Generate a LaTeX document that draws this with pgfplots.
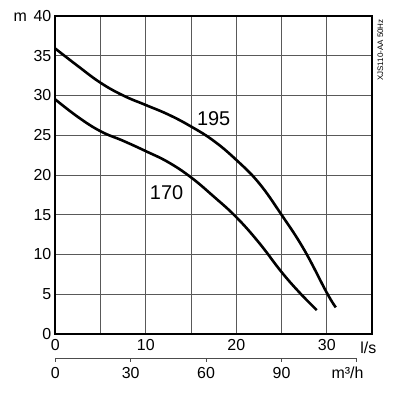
\documentclass[border=0pt]{standalone}
\usepackage{pgfplots}
\pgfplotsset{compat=1.18}
\usepackage{fontspec}
\setmainfont{Liberation Sans}
\begin{document}
\begin{tikzpicture}
\begin{axis}[
  scale only axis,
  width=316.7bp, height=318bp,
  xmin=0, xmax=35, ymin=0, ymax=40,
  xtick={0,10,20,30}, minor xtick={5,15,25},
  ytick={0,5,...,40},
  grid=both,
  major grid style={black!65, line width=0.8bp},
  minor grid style={black!65, line width=0.8bp},
  major tick length=0pt, minor tick length=0pt,
  axis line style={black, line width=2bp},
  /pgf/number format/assume math mode=true,
  ticklabel style={font=\fontsize{16}{18}\selectfont},
  xticklabel style={yshift=-2bp},
  yticklabel style={xshift=-0.5bp},
  clip=false,
]
\addplot[black, line width=2.6bp, smooth, tension=0.7] coordinates {
 (0,35.9) (2.5,33.7) (5,31.6) (7.5,30.0) (10,28.8) (12.5,27.6) (15,26.1)
 (17.5,24.3) (20,21.9) (22.5,19.0) (25,15.0) (27.5,10.6) (30,5.2) (31,3.35)
};
\addplot[black, line width=2.6bp, smooth, tension=0.7] coordinates {
 (0,29.5) (2.5,27.3) (5,25.5) (7.5,24.3) (10,23.0) (12.5,21.6) (15,19.7)
 (17.5,17.3) (20,14.7) (22.5,11.5) (25,7.8) (27,5.2) (28.9,3.0)
};
\node[font=\fontsize{20}{22}\selectfont] at (axis cs:17.5,27.1) {195};
\node[font=\fontsize{20}{22}\selectfont] at (axis cs:12.3,17.8) {170};
\node[font=\fontsize{16}{18}\selectfont, anchor=base east] at ([xshift=-25bp,yshift=-5.7bp]rel axis cs:0,1) {m};
\node[font=\fontsize{16}{18}\selectfont] at ([yshift=-13.5bp]axis cs:34.6,0) {l/s};
% secondary m3/h scale
\draw[black!70, line width=0.9bp] ([yshift=-24bp]axis cs:0,0) -- ([yshift=-24bp]axis cs:33.333,0);
\draw[black!70, line width=0.9bp] ([yshift=-24bp]axis cs:0,0) -- ([yshift=-27.5bp]axis cs:0,0);
\draw[black!70, line width=0.9bp] ([yshift=-24bp]axis cs:8.3333,0) -- ([yshift=-27.5bp]axis cs:8.3333,0);
\draw[black!70, line width=0.9bp] ([yshift=-24bp]axis cs:16.6667,0) -- ([yshift=-27.5bp]axis cs:16.6667,0);
\draw[black!70, line width=0.9bp] ([yshift=-24bp]axis cs:25,0) -- ([yshift=-27.5bp]axis cs:25,0);
\draw[black!70, line width=0.9bp] ([yshift=-24bp]axis cs:33.333,0) -- ([yshift=-27.5bp]axis cs:33.333,0);
\node[font=\fontsize{16}{18}\selectfont] at ([yshift=-39bp]axis cs:0,0) {0};
\node[font=\fontsize{16}{18}\selectfont] at ([yshift=-39bp]axis cs:8.3333,0) {30};
\node[font=\fontsize{16}{18}\selectfont] at ([yshift=-39bp]axis cs:16.6667,0) {60};
\node[font=\fontsize{16}{18}\selectfont] at ([yshift=-39bp]axis cs:25,0) {90};
\node[font=\fontsize{16}{18}\selectfont, anchor=base] at ([yshift=-44.7bp]axis cs:32.3,0) {m³/h};
\node[font=\fontsize{8}{9}\selectfont, rotate=90] at ([xshift=8.5bp,yshift=-34bp]rel axis cs:1,1) {XJS110-AA 50Hz};
\coordinate (o) at (rel axis cs:0,0);
\end{axis}
\pgfresetboundingbox
\path (o) ++(-55.3bp,-59bp) rectangle ++(412bp,393bp);
\end{tikzpicture}
\end{document}
